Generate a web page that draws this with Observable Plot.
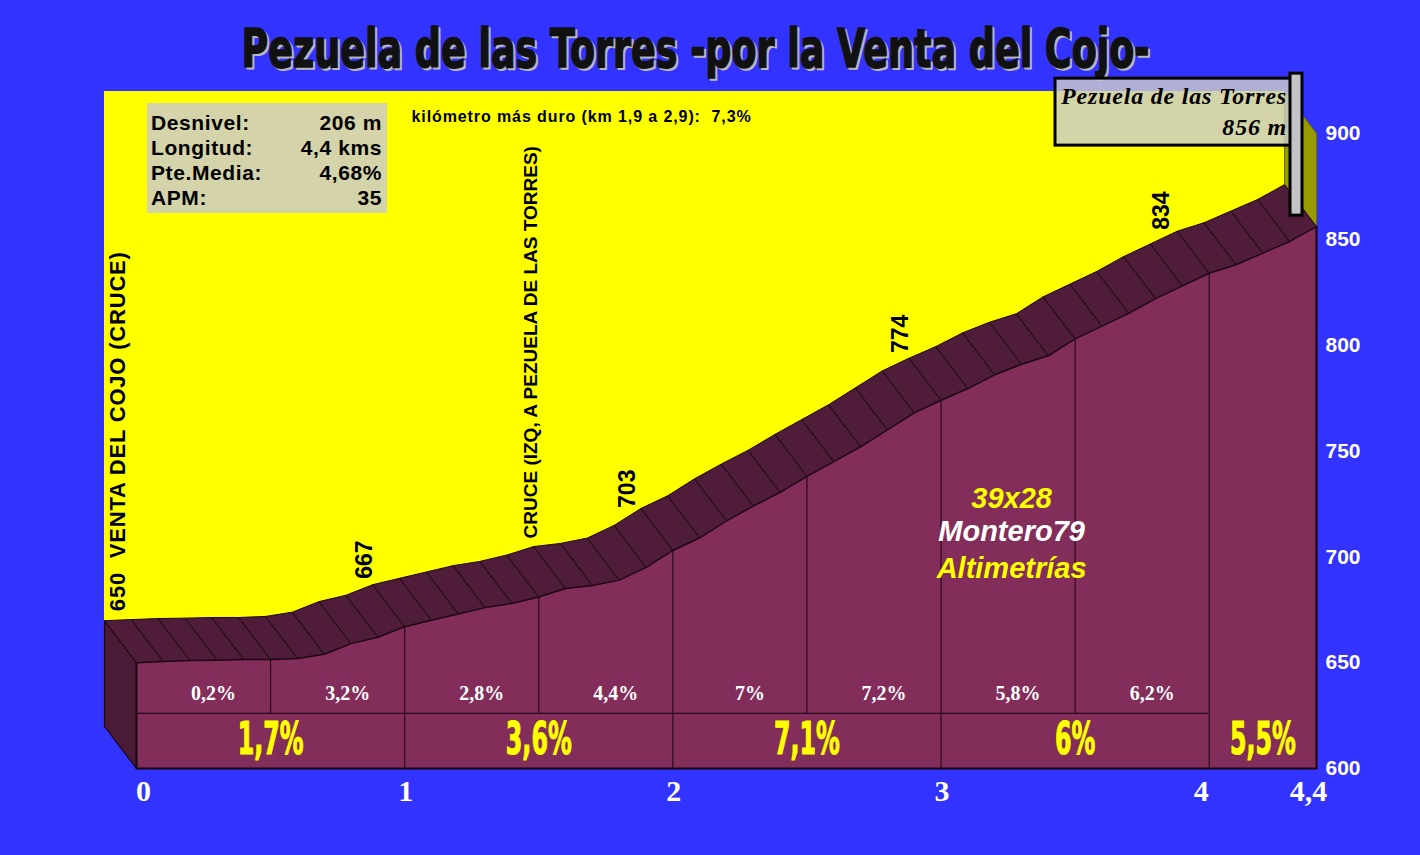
<!DOCTYPE html>
<html><head><meta charset="utf-8">
<script src="https://cdn.jsdelivr.net/npm/d3@7"></script>
<script src="https://cdn.jsdelivr.net/npm/@observablehq/plot@0.6"></script>
<style>
html,body{margin:0;padding:0;background:#3333ff;overflow:hidden}
#chart svg{display:block}
</style></head><body><div id="chart"></div>
<script>
// ---------- data ----------
const km = [0,0.1,0.2,0.3,0.4,0.5,0.6,0.7,0.8,0.9,1.0,1.1,1.2,1.3,1.4,1.5,1.6,1.7,1.8,1.9,2.0,2.1,2.2,2.3,2.4,2.5,2.6,2.7,2.8,2.9,3.0,3.1,3.2,3.3,3.4,3.5,3.6,3.7,3.8,3.9,4.0,4.1,4.2,4.3,4.4];
const elev = [650,650.5,651,651.2,651.5,651.5,652,654,659,662,667,670,673,676,678,681,685,686.5,689,695,703,709,717,724,730.5,738,745,752,760,768,774,779.5,786,791,795,803,809,815,822,828,834,838,843.5,849,856];
const yTicks = [600,650,700,750,800,850,900];
const xTicksLeft = [0];
const xTicksMid = [1,2,3];
const xTicksRight = [4,4.4];
const halfKmMid = [0.25,0.75,1.25,1.75,2.25,2.75,3.25,3.75];
const halfKmGrade = ["0,2%","3,2%","2,8%","4,4%","7%","7,2%","5,8%","6,2%"];
const fullKmMid = [0.5,1.5,2.5,3.5,4.2];
const fullKmGrade = ["1,7%","3,6%","7,1%","6%","5,5%"];
const fullKmLines = [1,2,3,4];
const halfKmLines = [0.5,1.5,2.5,3.5];
const pointLabelKm = [0.05,0.97,1.59,1.95,2.97,3.94];
const pointLabelText = ["650  VENTA DEL COJO (CRUCE)","667","CRUCE (IZQ, A PEZUELA DE LAS TORRES)","703","774","834"];
const pointLabelSize = [22,23,19,23,23,23];
const statNames = ["Desnivel:","Longitud:","Pte.Media:","APM:"];
const statValues = ["206 m","4,4 kms","4,68%","35"];
const hardest = "kilómetro más duro (km 1,9 a 2,9):  7,3%";
const title = "Pezuela de las Torres -por la Venta del Cojo-";
const summitName = "Pezuela de las Torres";
const summitElev = "856 m";
const credits = ["39x28","Montero79","Altimetrías"];
const creditColors = ["#ffff00","#ffffff","#ffff00"];

// ---------- derived ----------
const KM0 = 0, KM1 = 4.4, Y0 = 600, Y1 = 900;
const DK = 32 * (KM1 - KM0) / 1180;   // depth offset (km) of back plane
const DM = 42 * (Y1 - Y0) / 635;      // depth offset (m) of back plane
const DIVIDER = 626, ROW_SMALL = 635.5, ROW_BIG = 613.5;
const profile = km.map((k, i) => ({km: k, elev: elev[i]}));
const elevAt = k => {
  const i = Math.min(km.length - 2, Math.max(0, d3.bisectRight(km, k) - 1));
  const t = (k - km[i]) / (km[i + 1] - km[i]);
  return elev[i] + t * (elev[i + 1] - elev[i]);
};
const last = profile[profile.length - 1];
const bandRows = [];
for (let i = 0; i < profile.length - 1; i++) {
  const a = profile[i], b = profile[i + 1];
  bandRows.push({seg: i, x: a.km, y: a.elev}, {seg: i, x: b.km, y: b.elev},
    {seg: i, x: b.km - DK, y: b.elev + DM}, {seg: i, x: a.km - DK, y: a.elev + DM},
    {seg: i, x: a.km, y: a.elev});
}
const leftFace = [
  {x: KM0, y: Y0}, {x: KM0, y: elev[0]}, {x: KM0 - DK, y: elev[0] + DM}, {x: KM0 - DK, y: Y0 + DM}, {x: KM0, y: Y0}
];
const rightFace = [
  {x: KM1 - DK, y: Y1 + DM}, {x: KM1, y: Y1}, {x: KM1, y: last.elev}, {x: KM1 - DK, y: last.elev + DM}, {x: KM1 - DK, y: Y1 + DM}
];
const frontOutline = [{x: KM0, y: elev[0]}, {x: KM0, y: Y0}, {x: KM1, y: Y0}, {x: KM1, y: last.elev}];
const labels = pointLabelKm.map((k, i) => ({x: k - DK, y: elevAt(k) + DM, text: pointLabelText[i], size: pointLabelSize[i]}));

const SANS = "Liberation Sans, Arial, Helvetica, sans-serif";
const SERIF = "Liberation Serif, Times New Roman, serif";
const fmtKm = d => String(d).replace(".", ",");
const xAxisStyle = {tickFormat: fmtKm, tickSize: 0, tickPadding: 11, fontSize: 30, fontWeight: "bold", fontFamily: SERIF, fill: "white", label: null};

function infoBox(index, scales, values, dim) {
  const g = d3.create("svg:g");
  const x0 = dim.marginLeft + 11, y0 = dim.marginTop - 30;
  g.append("rect").attr("x", x0).attr("y", y0).attr("width", 240).attr("height", 110).attr("fill", "#d4d3a9");
  statNames.forEach((n, i) => {
    const y = y0 + 27 + i * 25;
    g.append("text").attr("x", x0 + 4).attr("y", y).attr("text-anchor", "start").attr("font-family", SANS).attr("font-weight", "bold")
      .attr("font-size", 21).attr("letter-spacing", "0.6px").attr("fill", "#000").text(n);
    g.append("text").attr("x", x0 + 235).attr("y", y).attr("text-anchor", "end").attr("font-family", SANS)
      .attr("font-weight", "bold").attr("font-size", 21).attr("letter-spacing", "0.6px").attr("fill", "#000").text(statValues[i]);
  });
  return g.node();
}

function summitSign(index, scales, values, dim) {
  const g = d3.create("svg:g");
  const sx = scales.x(KM1), sy = scales.y(last.elev);
  g.append("rect").attr("x", sx - 261).attr("y", sy - 148).attr("width", 240).attr("height", 67)
    .attr("fill", "#cbcbce").attr("fill-opacity", 0.82).attr("stroke", "#000").attr("stroke-width", 3);
  g.append("rect").attr("x", sx - 26).attr("y", sy - 153).attr("width", 12).attr("height", 142)
    .attr("fill", "#c4c4c6").attr("stroke", "#000").attr("stroke-width", 3);
  g.append("text").attr("x", sx - 29).attr("y", sy - 122).attr("text-anchor", "end").attr("font-family", SERIF)
    .attr("font-weight", "bold").attr("font-style", "italic").attr("font-size", 24).attr("letter-spacing", "0.8px").attr("fill", "#000").text(summitName);
  g.append("text").attr("x", sx - 29).attr("y", sy - 91).attr("text-anchor", "end").attr("font-family", SERIF)
    .attr("font-weight", "bold").attr("font-style", "italic").attr("font-size", 24).attr("letter-spacing", "0.8px").attr("fill", "#000").text(summitElev);
  return g.node();
}

const chart = Plot.plot({
  width: 1420, height: 855,
  marginLeft: 136, marginRight: 104, marginTop: 133, marginBottom: 87,
  x: {domain: [KM0, KM1]},
  y: {domain: [Y0, Y1]},
  style: {background: "#3333ff", fontFamily: SANS, overflow: "visible"},
  marks: [
    Plot.rect([0], {x1: () => KM0 - DK, x2: () => KM1 - DK, y1: () => Y0 + DM, y2: () => Y1 + DM, fill: "#ffff00"}),
    Plot.line(rightFace, {x: "x", y: "y", fill: "#999900", stroke: "#6b6b00", strokeWidth: 1}),
    Plot.line(leftFace, {x: "x", y: "y", fill: "#4a1a36", stroke: "#1a0510", strokeWidth: 1.2}),
    Plot.line(bandRows, {x: "x", y: "y", z: "seg", fill: "#4f1c3a", stroke: "#1c0712", strokeWidth: 1}),
    Plot.areaY(profile, {x: "km", y1: () => Y0, y2: "elev", fill: "#832d5b"}),
    Plot.ruleY([DIVIDER], {x1: () => KM0, x2: () => 4, stroke: "#2a0a1e", strokeWidth: 1.2}),
    Plot.ruleX(fullKmLines, {x: d => d, y1: () => Y0, y2: d => elevAt(d), stroke: "#2a0a1e", strokeWidth: 1.2}),
    Plot.ruleX(halfKmLines, {x: d => d, y1: () => DIVIDER, y2: d => elevAt(d), stroke: "#2a0a1e", strokeWidth: 1.2}),
    Plot.line(profile, {x: "km", y: "elev", stroke: "#1c0712", strokeWidth: 1.5}),
    Plot.line(frontOutline, {x: "x", y: "y", stroke: "#1a0510", strokeWidth: 2}),
    Plot.axisY({anchor: "right", ticks: yTicks, tickSize: 0, tickPadding: 9, fontSize: 21, fontWeight: "bold", fill: "white", label: null, fontFamily: SANS}),
    Plot.axisX({...xAxisStyle, ticks: xTicksLeft, dx: 7}),
    Plot.axisX({...xAxisStyle, ticks: xTicksMid, dx: 1}),
    Plot.axisX({...xAxisStyle, ticks: xTicksRight, dx: -8}),
    Plot.text(halfKmMid, {x: d => d, y: () => ROW_SMALL, text: (d, i) => halfKmGrade[i], dx: 10, fill: "white", fontFamily: SERIF, fontWeight: "bold", fontSize: 20}),
    Plot.text(fullKmMid, {x: d => d, y: () => ROW_BIG, text: (d, i) => fullKmGrade[i], fill: "#ffff00", stroke: "#ffff00", strokeWidth: 1.2, fontFamily: "DejaVu Sans, sans-serif", fontWeight: "bold", fontSize: 44}),
    ...labels.map(l => Plot.text([l], {x: "x", y: "y", text: "text", rotate: -90, textAnchor: "start", dy: -9, fontSize: l.size, fontWeight: "bold", fill: "#000", fontFamily: SANS})),
    Plot.text([title], {frameAnchor: "top", text: d => d, dx: -29, dy: -65, lineAnchor: "bottom", fontSize: 54, fontWeight: "bold", fill: "#b8b8b8", stroke: "#b8b8b8", strokeWidth: 1.5, fontFamily: "DejaVu Sans, sans-serif"}),
    Plot.text([title], {frameAnchor: "top", text: d => d, dx: -31, dy: -67, lineAnchor: "bottom", fontSize: 54, fontWeight: "bold", fill: "#111", stroke: "#111", strokeWidth: 1.5, fontFamily: "DejaVu Sans, sans-serif"}),
    Plot.text([hardest], {frameAnchor: "top-left", text: d => d, dx: 275, dy: -17, textAnchor: "start", lineAnchor: "middle", fontSize: 16, fontWeight: "bold", fill: "#000", fontFamily: SANS}),
    ...credits.map((c, i) => Plot.text([c], {x: () => 3.263, y: () => 712, text: d => d, dy: [-33, 0, 37][i], fill: creditColors[i], fontSize: 29, fontWeight: "bold", fontStyle: "italic", fontFamily: SANS})),
    infoBox,
    summitSign
  ]
});
document.getElementById("chart").append(chart);
const svg = d3.select(chart);
const texts = svg.selectAll("text");
// horizontal condensing of heavy display texts, scaled about their own anchor
function condense(el, factor) {
  const t = el.getAttribute("transform") || "";
  el.setAttribute("transform", t + ` scale(${factor},1)`);
}
texts.filter(function() { return this.textContent === title; }).each(function() {
  condense(this, 908 / this.getComputedTextLength());
});
texts.filter(function() { return fullKmGrade.includes(this.textContent); }).each(function() {
  condense(this, 0.54);
});
texts.filter(function() { return this.textContent === hardest; }).attr("letter-spacing", "0.9px");
texts.filter(function() { return this.textContent === pointLabelText[0]; }).attr("letter-spacing", "0.8px");
</script></body></html>
